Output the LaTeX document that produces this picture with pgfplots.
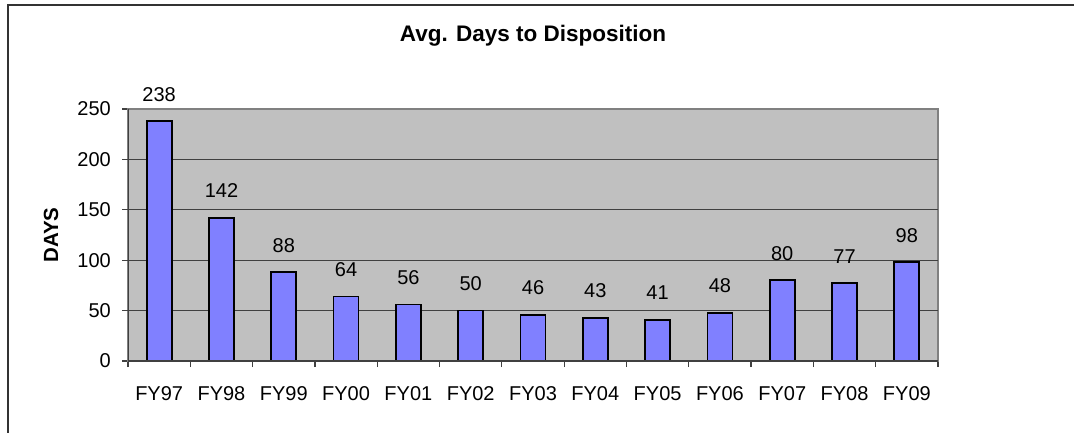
\documentclass[border=0pt]{standalone}
\usepackage{pgfplots}
\pgfplotsset{compat=1.18}
\usepackage{fontspec}
\setmainfont{Liberation Sans}
\definecolor{barblue}{HTML}{8080FF}
\definecolor{bggray}{HTML}{C0C0C0}
\definecolor{gridc}{HTML}{404040}
\definecolor{bordg}{HTML}{808080}
\definecolor{framec}{HTML}{333333}
\begin{document}
\begin{tikzpicture}
\useasboundingbox (0bp,0bp) rectangle (1074bp,433bp);
\draw[line width=2bp, framec] (8bp,-10bp) -- (8bp,428bp) -- (1090bp,428bp);
\begin{axis}[
  at={(128bp,72bp)}, anchor=south west,
  scale only axis, width=810bp, height=252bp,
  ybar, bar width=25bp,
  xmin=-0.5, xmax=12.5, ymin=0, ymax=250,
  enlargelimits=false,
  xtick={0,...,12},
  xticklabels={FY97,FY98,FY99,FY00,FY01,FY02,FY03,FY04,FY05,FY06,FY07,FY08,FY09},
  minor xtick={-0.5,0.5,...,12.5},
  ytick={0,50,...,250},
  tick align=outside, tick pos=left,
  major tick length=6bp, minor tick length=6bp,
  major x tick style={draw=none},
  tick style={gridc, line width=1.2bp},
  axis background/.style={fill=bggray},
  axis line style={bordg, line width=1.8bp},
  extra y ticks={50,100,150,200},
  extra y tick labels={},
  extra y tick style={grid=major},
  major grid style={gridc, line width=1.3bp},
  /pgf/number format/assume math mode=true,
  ticklabel style={font=\fontsize{20bp}{24bp}\selectfont},
  yticklabel style={anchor=east, inner sep=0pt, xshift=-11bp},
  xticklabel style={anchor=base, inner sep=0pt, yshift=-33bp},
  nodes near coords,
  every node near coord/.append style={anchor=base, yshift=20bp, inner sep=0pt, text=black, font=\fontsize{20bp}{24bp}\selectfont},
  title={Avg. Days to Disposition},
  title style={at={(0.5,1)}, anchor=base, inner sep=0pt, yshift=62bp, font=\bfseries\fontsize{22.5bp}{27bp}\selectfont},
  ylabel={DAYS},
  ylabel style={at={(axis description cs:0,0.5)}, anchor=base, inner sep=0pt, yshift=70bp, font=\bfseries\fontsize{20.5bp}{24bp}\selectfont},
]
\addplot[draw=black, line width=1.8bp, fill=barblue] coordinates {
(0,238) (1,142) (2,88) (3,64) (4,56) (5,50) (6,46) (7,43) (8,41) (9,48) (10,80) (11,77) (12,98)};
\draw[gridc, line width=1.5bp] (rel axis cs:0,1) -- (rel axis cs:0,0) -- (rel axis cs:1,0);
\end{axis}
\end{tikzpicture}
\end{document}
